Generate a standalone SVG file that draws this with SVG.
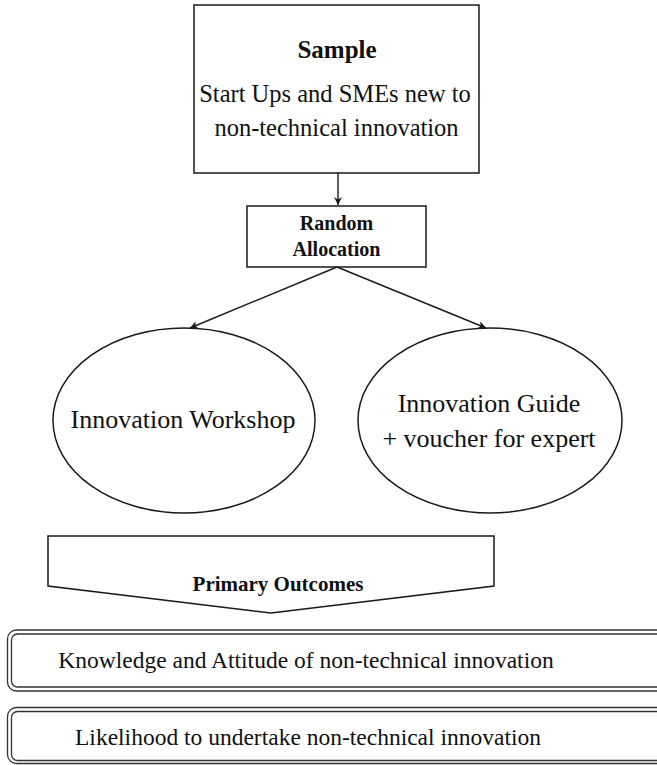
<svg xmlns="http://www.w3.org/2000/svg" width="657" height="765" viewBox="0 0 657 765">
<style>
  .shape { fill: #ffffff; stroke: #1a1a1a; stroke-width: 1.5; }
  text { font-family: 'Liberation Serif', 'Times New Roman', Tinos, 'DejaVu Serif', serif; fill: #111111; text-anchor: middle; }
  .b { font-weight: bold; }
  .conn { stroke: #1a1a1a; stroke-width: 1.4; fill: none; marker-end: url(#arr); }
  .dbl { fill: #ffffff; stroke: #333333; stroke-width: 1.3; }
</style>
<defs>
  <marker id="arr" viewBox="0 0 10 10" refX="10" refY="5" markerWidth="8" markerHeight="8" markerUnits="userSpaceOnUse" orient="auto">
    <path d="M0,0 L10,5 L0,10 L3,5 z" fill="#1a1a1a"/>
  </marker>
</defs>
<rect width="657" height="765" fill="#ffffff"/>

<g id="sample">
  <rect class="shape" x="194" y="5" width="285" height="168"/>
  <text class="b" x="337" y="58" font-size="25" font-family="Liberation Serif, serif">Sample</text>
  <text x="335" y="102" font-size="24.5" font-family="Liberation Serif, serif">Start Ups and SMEs new to</text>
  <text x="336.5" y="136" font-size="24.5" font-family="Liberation Serif, serif">non-technical innovation</text>
</g>

<g id="random-allocation">
  <rect class="shape" x="247" y="206" width="179" height="61"/>
  <text class="b" x="336.5" y="230" font-size="20" font-family="Liberation Serif, serif">Random</text>
  <text class="b" x="336.5" y="256" font-size="20" font-family="Liberation Serif, serif">Allocation</text>
</g>

<g id="workshop">
  <ellipse class="shape" cx="184" cy="420.5" rx="131" ry="92.5"/>
  <text x="183" y="428" font-size="26" font-family="Liberation Serif, serif">Innovation Workshop</text>
</g>

<g id="guide">
  <ellipse class="shape" cx="490" cy="420.5" rx="132" ry="92.5"/>
  <text x="489" y="412" font-size="26" font-family="Liberation Serif, serif">Innovation Guide</text>
  <text x="489" y="447" font-size="26" font-family="Liberation Serif, serif">+ voucher for expert</text>
</g>

<g id="primary-outcomes">
  <path class="shape" d="M48,536 L494,536 L494,586 L271,613 L48,586 Z"/>
  <text class="b" x="278" y="591" font-size="21" font-family="Liberation Serif, serif">Primary Outcomes</text>
</g>

<g id="knowledge">
  <rect class="dbl" x="7.5" y="630" width="660" height="61" rx="9"/>
  <rect class="dbl" x="11.5" y="634" width="652" height="53" rx="6"/>
  <text x="306" y="668" font-size="23.5" font-family="Liberation Serif, serif">Knowledge and Attitude of non-technical innovation</text>
</g>

<g id="likelihood">
  <rect class="dbl" x="7.5" y="707.5" width="660" height="56" rx="9"/>
  <rect class="dbl" x="11.5" y="711.5" width="652" height="49" rx="6"/>
  <text x="308" y="745" font-size="23.5" font-family="Liberation Serif, serif">Likelihood to undertake non-technical innovation</text>
</g>

<g id="connectors">
  <line class="conn" x1="338" y1="173" x2="338" y2="205"/>
  <line class="conn" x1="337" y1="267" x2="190" y2="328"/>
  <line class="conn" x1="337" y1="267" x2="486" y2="328"/>
</g>
</svg>
